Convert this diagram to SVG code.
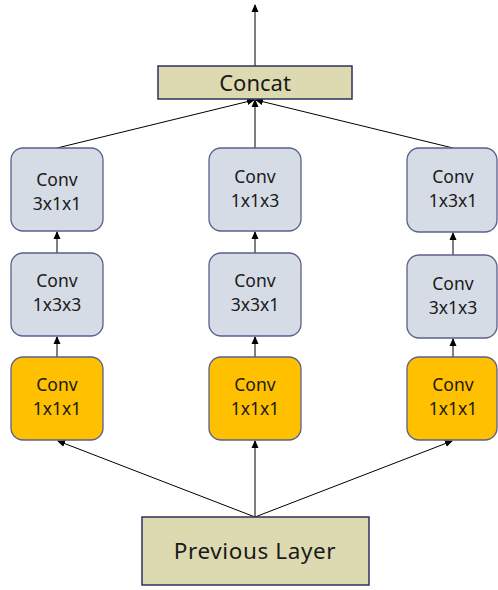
<svg xmlns="http://www.w3.org/2000/svg" width="498" height="590" viewBox="0 0 498 590">
  <style>
    .blk { fill: #D6DCE5; stroke: #5B5F8C; stroke-width: 1.3; }
    .org { fill: #FFC000; stroke: #5B5F8C; stroke-width: 1.3; }
    .lay { fill: #DDDAB2; stroke: #2E2F5E; stroke-width: 1.5; }
    .t { font-family: "Noto Sans", "Open Sans", sans-serif; font-size: 17.5px; fill: #1a1a1a; text-anchor: middle; }
    .big { font-size: 22px; }
    .huge { font-size: 22.5px; letter-spacing: 0.6px; }
    .con line { stroke: #000; stroke-width: 1; marker-end: url(#ah); }
  </style>
  <defs>
    <marker id="ah" markerWidth="8" markerHeight="8" refX="7" refY="4" orient="auto" markerUnits="userSpaceOnUse">
      <path d="M0,0.5 L8,4 L0,7.5 Z" fill="#000"/>
    </marker>
  </defs>

  <rect width="498" height="590" fill="#fff"/>

  <g class="con">
    <!-- output -->
    <line x1="255" y1="66" x2="255" y2="5"/>
    <!-- into concat -->
    <line x1="57" y1="148" x2="254" y2="100"/>
    <line x1="255" y1="148" x2="255" y2="100"/>
    <line x1="453" y1="148" x2="256" y2="100"/>
    <!-- left column -->
    <line x1="57" y1="253" x2="57" y2="232"/>
    <line x1="57" y1="357" x2="57" y2="337"/>
    <!-- middle column -->
    <line x1="255" y1="253" x2="255" y2="232"/>
    <line x1="255" y1="357" x2="255" y2="337"/>
    <!-- right column -->
    <line x1="453" y1="255" x2="453" y2="233"/>
    <line x1="453" y1="357" x2="453" y2="339"/>
    <!-- from previous layer -->
    <line x1="255" y1="517" x2="58" y2="441"/>
    <line x1="255" y1="517" x2="255" y2="441"/>
    <line x1="255" y1="517" x2="452" y2="441"/>
  </g>

  <g id="concat">
    <rect class="lay" x="158" y="66" width="194" height="33"/>
    <text class="t big" x="255" y="91">Concat</text>
  </g>

  <g id="c1a"><rect class="blk" x="11" y="148" width="92" height="83" rx="12"/>
    <text class="t" x="57" y="186">Conv</text><text class="t" x="57" y="210">3x1x1</text></g>
  <g id="c1b"><rect class="blk" x="11" y="253" width="92" height="83" rx="12"/>
    <text class="t" x="57" y="287">Conv</text><text class="t" x="57" y="311">1x3x3</text></g>
  <g id="c1c"><rect class="org" x="11" y="357" width="92" height="83" rx="12"/>
    <text class="t" x="57" y="391">Conv</text><text class="t" x="57" y="415">1x1x1</text></g>

  <g id="c2a"><rect class="blk" x="209" y="148" width="92" height="83" rx="12"/>
    <text class="t" x="255" y="183">Conv</text><text class="t" x="255" y="207">1x1x3</text></g>
  <g id="c2b"><rect class="blk" x="209" y="253" width="92" height="83" rx="12"/>
    <text class="t" x="255" y="287">Conv</text><text class="t" x="255" y="311">3x3x1</text></g>
  <g id="c2c"><rect class="org" x="209" y="357" width="92" height="83" rx="12"/>
    <text class="t" x="255" y="391">Conv</text><text class="t" x="255" y="415">1x1x1</text></g>

  <g id="c3a"><rect class="blk" x="407" y="148" width="90" height="84" rx="12"/>
    <text class="t" x="453" y="183">Conv</text><text class="t" x="453" y="207">1x3x1</text></g>
  <g id="c3b"><rect class="blk" x="407" y="255" width="90" height="83" rx="12"/>
    <text class="t" x="453" y="290">Conv</text><text class="t" x="453" y="314">3x1x3</text></g>
  <g id="c3c"><rect class="org" x="407" y="357" width="90" height="83" rx="12"/>
    <text class="t" x="453" y="391">Conv</text><text class="t" x="453" y="415">1x1x1</text></g>

  <g id="prev">
    <rect class="lay" x="142" y="517" width="227" height="68"/>
    <text class="t huge" x="255" y="559">Previous Layer</text>
  </g>
</svg>
